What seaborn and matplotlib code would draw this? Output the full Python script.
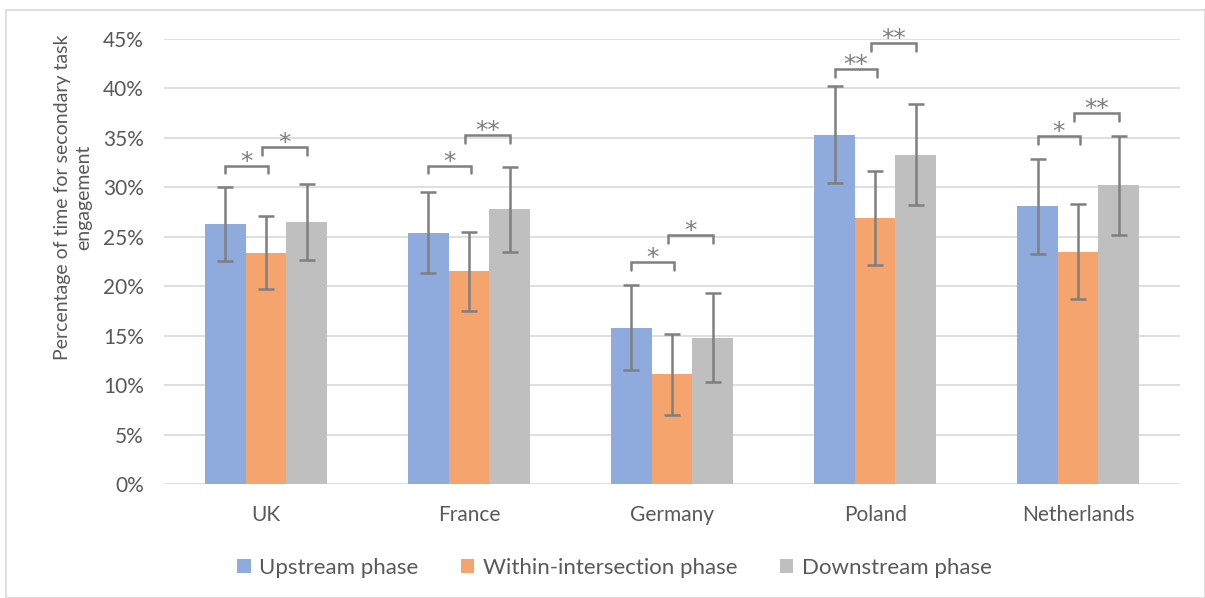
import matplotlib
matplotlib.use("Agg")
import matplotlib.pyplot as plt
from matplotlib.patches import Rectangle
import numpy as np
import pandas as pd
import seaborn as sns

countries = ["UK", "France", "Germany", "Poland", "Netherlands"]
phases = ["Upstream phase", "Within-intersection phase", "Downstream phase"]

upstream = [26.3, 25.4, 15.8, 35.3, 28.1]
within = [23.4, 21.5, 11.1, 26.9, 23.5]
downstream = [26.5, 27.8, 14.8, 33.3, 30.2]

upstream_err = [3.7, 4.1, 4.3, 4.9, 4.8]
within_err = [3.7, 4.0, 4.1, 4.8, 4.8]
downstream_err = [3.8, 4.3, 4.5, 5.1, 5.0]

# significance brackets: (upstream vs within), (within vs downstream)
bracket1_level = [32.2, 32.2, 22.4, 42.0, 35.2]
bracket1_label = ["*", "*", "*", "**", "*"]
bracket2_level = [34.1, 35.3, 25.2, 44.6, 37.5]
bracket2_label = ["*", "**", "*", "**", "**"]

colors = ["#8FAADC", "#F4A46C", "#BFBFBF"]
text_color = "#595959"
err_color = "#7F7F7F"

sns.set_theme(style="white")
plt.rcParams["font.family"] = ["Lato", "DejaVu Sans"]

df = pd.DataFrame({
    "country": np.repeat(countries, 3),
    "phase": phases * len(countries),
    "value": np.ravel(np.column_stack([upstream, within, downstream])) / 100,
    "err": np.ravel(np.column_stack([upstream_err, within_err, downstream_err])) / 100,
})

fig = plt.figure(figsize=(12.05, 5.98), dpi=100)
ax = fig.add_axes([0.1365, 0.1906, 0.8425, 0.7442])

sns.barplot(data=df, x="country", y="value", hue="phase", order=countries,
            hue_order=phases, palette=colors, width=0.6, errorbar=None,
            saturation=1, ax=ax, linewidth=0, zorder=2)

# bar centres per hue, taken from drawn patches
centers = {}
bars = [p for p in ax.patches if p.get_height() > 0]
for i, ph in enumerate(phases):
    group = bars[i * len(countries):(i + 1) * len(countries)]
    centers[ph] = [p.get_x() + p.get_width() / 2 for p in group]

for ph in phases:
    sub = df[df.phase == ph].set_index("country").loc[countries]
    ax.errorbar(centers[ph], sub["value"], yerr=sub["err"], fmt="none",
                ecolor=err_color, elinewidth=1.8, capsize=6, capthick=1.8, zorder=3)

tick = 0.008


def bracket(x1, x2, y, label):
    ax.plot([x1, x1, x2, x2], [y - tick, y, y, y - tick], color=err_color,
            lw=1.8, solid_joinstyle="miter", zorder=4, clip_on=False)
    ax.text((x1 + x2) / 2, y - 0.003, label, ha="center", va="baseline",
            fontsize=18, color=err_color, family="DejaVu Sans", zorder=4)


for k in range(len(countries)):
    bracket(centers[phases[0]][k], centers[phases[1]][k] + 0.01,
            bracket1_level[k] / 100, bracket1_label[k])
    bracket(centers[phases[1]][k] - 0.02, centers[phases[2]][k],
            bracket2_level[k] / 100, bracket2_label[k])

ax.set_ylim(0, 0.45)
ax.set_xlim(-0.5, len(countries) - 0.5)
yt = np.arange(0, 0.451, 0.05)
ax.set_yticks(yt)
ax.set_yticklabels([f"{int(round(t * 100))}%" for t in yt])
ax.yaxis.grid(True, color="#D9D9D9", lw=1.2, zorder=0)
ax.set_axisbelow(True)
for s in ax.spines.values():
    s.set_visible(False)
ax.tick_params(axis="both", length=0, labelsize=15, colors=text_color)
ax.tick_params(axis="y", pad=15)
ax.tick_params(axis="x", pad=15)
ax.set_xlabel("")
ax.set_ylabel("Percentage of time for secondary task\nengagement", fontsize=14,
              color=text_color, linespacing=1.3, va="center", ha="center")
ax.yaxis.set_label_coords(-0.090, 0.645)

ax.get_legend().remove()
handles, labels = ax.get_legend_handles_labels()
fig.legend(handles, labels, loc="center", bbox_to_anchor=(0.51, 0.051), ncol=3,
           frameon=False, fontsize=16, handlelength=0.6, handleheight=0.6,
           handletextpad=0.4, columnspacing=1.9, labelcolor=text_color)

# outer frame of the chart area
fig.patches.append(Rectangle((6 / 1205, 0), 1 - 6 / 1205, 1 - 10 / 598,
                             transform=fig.transFigure, fill=False,
                             edgecolor="#D9D9D9", lw=1.2))

fig.savefig("out.png", dpi=100)
